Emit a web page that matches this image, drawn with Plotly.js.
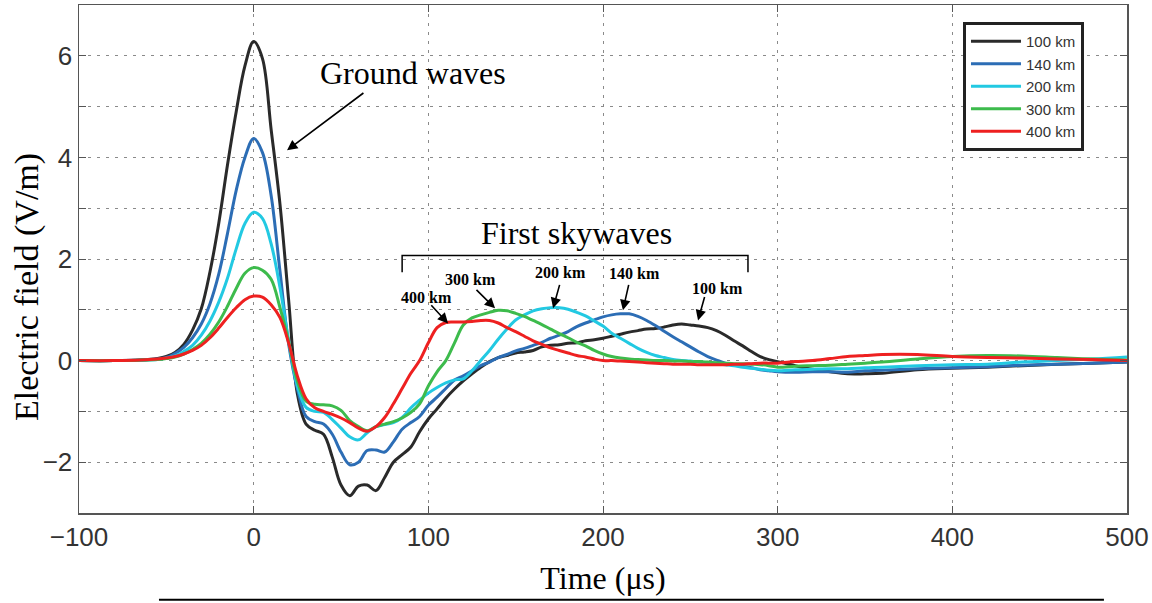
<!DOCTYPE html>
<html>
<head>
<meta charset="utf-8">
<script src="https://cdn.plot.ly/plotly-3.0.1.min.js"></script>
<style>html,body{margin:0;padding:0;background:#fff;}#chart{width:1152px;height:603px;}</style>
</head>
<body>
<div id="chart"></div>
<script>
// Time (µs)
const time = [-100,-80,-65,-55,-50,-45,-40,-35,-30,-25,-20,-15,-10,-5,0,5,10,15,20,25,30,35,40,45,50,55,60,65,70,75,80,85,90,95,100,105,110,115,120,125,130,135,140,145,150,155,160,165,170,175,180,185,190,195,200,205,210,215,220,225,230,235,240,245,250,255,260,265,270,275,280,285,290,295,300,310,320,330,340,350,360,380,400,420,440,460,480,500];

const seriesNames = ["100 km","140 km","200 km","300 km","400 km"];

const e100km = [0,0,0.01,0.04,0.08,0.16,0.32,0.6,1.02,1.75,2.7,3.85,4.9,5.8,6.28,5.95,4.55,3.1,1.2,-0.65,-1.25,-1.37,-1.45,-1.9,-2.45,-2.66,-2.47,-2.45,-2.56,-2.3,-2.0,-1.85,-1.7,-1.4,-1.15,-0.95,-0.74,-0.56,-0.4,-0.26,-0.13,-0.02,0.06,0.1,0.15,0.17,0.2,0.27,0.3,0.31,0.34,0.35,0.39,0.41,0.44,0.48,0.52,0.56,0.59,0.62,0.63,0.66,0.7,0.72,0.7,0.68,0.65,0.59,0.5,0.39,0.29,0.18,0.08,0.02,-0.02,-0.1,-0.17,-0.22,-0.26,-0.26,-0.25,-0.18,-0.15,-0.13,-0.1,-0.07,-0.05,-0.03];

const e140km = [0,0,0.01,0.03,0.06,0.14,0.26,0.45,0.72,1.12,1.7,2.5,3.35,4.0,4.37,4.1,3.25,1.78,0.33,-0.55,-1.1,-1.2,-1.25,-1.45,-1.8,-2.05,-2.0,-1.77,-1.76,-1.8,-1.6,-1.35,-1.22,-1.1,-0.88,-0.72,-0.55,-0.38,-0.3,-0.2,-0.1,-0.03,0.06,0.12,0.19,0.24,0.3,0.36,0.44,0.5,0.57,0.67,0.74,0.8,0.86,0.9,0.92,0.92,0.87,0.79,0.69,0.58,0.47,0.37,0.27,0.17,0.08,0.01,-0.05,-0.08,-0.11,-0.14,-0.18,-0.2,-0.22,-0.23,-0.22,-0.22,-0.23,-0.2,-0.19,-0.16,-0.14,-0.12,-0.09,-0.07,-0.05,-0.03];

const e200km = [0,0,0.01,0.02,0.05,0.09,0.18,0.3,0.5,0.78,1.15,1.62,2.2,2.7,2.92,2.8,2.3,1.45,0.4,-0.5,-0.92,-1.0,-1.02,-1.16,-1.33,-1.5,-1.56,-1.42,-1.3,-1.26,-1.22,-1.12,-0.93,-0.78,-0.64,-0.53,-0.44,-0.38,-0.36,-0.2,0.0,0.2,0.42,0.62,0.8,0.9,0.98,1.02,1.04,1.04,1.01,0.95,0.88,0.78,0.68,0.54,0.44,0.34,0.24,0.16,0.1,0.06,0.02,0.0,-0.01,-0.03,-0.04,-0.06,-0.08,-0.1,-0.13,-0.15,-0.17,-0.19,-0.2,-0.18,-0.17,-0.16,-0.16,-0.14,-0.13,-0.1,-0.08,-0.07,-0.03,0.0,0.03,0.07];

const e300km = [0,0,0.01,0.02,0.04,0.07,0.13,0.22,0.34,0.52,0.76,1.07,1.42,1.72,1.83,1.78,1.6,1.05,0.38,-0.4,-0.8,-0.86,-0.87,-0.89,-0.98,-1.18,-1.3,-1.38,-1.3,-1.25,-1.2,-1.13,-1.02,-0.85,-0.5,-0.22,0.0,0.35,0.7,0.84,0.9,0.95,0.99,0.98,0.93,0.87,0.79,0.71,0.62,0.53,0.45,0.36,0.29,0.2,0.13,0.08,0.05,0.03,0.02,0.01,0.0,0.0,-0.01,-0.01,-0.02,-0.02,-0.03,-0.04,-0.05,-0.06,-0.06,-0.07,-0.08,-0.1,-0.13,-0.11,-0.1,-0.09,-0.07,-0.05,-0.03,0.03,0.08,0.1,0.09,0.06,0.03,0.01];

const e400km = [0,0,0.01,0.03,0.05,0.08,0.13,0.2,0.3,0.45,0.64,0.85,1.04,1.2,1.27,1.25,1.1,0.85,0.35,-0.3,-0.75,-0.93,-1.0,-1.06,-1.13,-1.22,-1.33,-1.39,-1.3,-1.12,-0.85,-0.55,-0.25,0.0,0.35,0.65,0.75,0.76,0.76,0.77,0.79,0.79,0.74,0.65,0.57,0.48,0.39,0.32,0.25,0.2,0.15,0.1,0.07,0.03,0.0,0.0,-0.01,-0.02,-0.03,-0.04,-0.05,-0.06,-0.07,-0.07,-0.07,-0.08,-0.08,-0.08,-0.08,-0.07,-0.07,-0.06,-0.05,-0.05,-0.05,-0.02,0.0,0.04,0.08,0.1,0.12,0.12,0.08,0.06,0.05,0.03,0.02,0.0];

const seriesValues = [e100km, e140km, e200km, e300km, e400km];
const seriesColors = ["#2a2a2a","#2c6db5","#22c9e2","#3dbb4c","#ee2020"];

const xTickVals = [-100,0,100,200,300,400,500];
const yTickVals = [-2,0,2,4,6];

const traces = seriesNames.map((name, i) => ({
  x: time, y: seriesValues[i], name: name, type: "scatter", mode: "lines",
  line: {color: seriesColors[i], width: 3, shape: "spline", smoothing: 1}
}));

const serif = "Liberation Serif, Times New Roman, serif";
const sans = "Liberation Sans, Arial, Helvetica, sans-serif";
const gridStyle = {gridcolor: "#8a8a8a", griddash: "3px,6px", gridwidth: 1};

const ann = [
  {text: "Electric field (V/m)", x: -0.0496, y: 0.445, xref: "paper", yref: "paper", xanchor: "center", yanchor: "middle", textangle: -90, showarrow: false, font: {family: serif, size: 34, color: "#000"}},
  {text: "Ground waves", x: 91, y: 5.66, xref: "x", yref: "y", showarrow: false, font: {family: serif, size: 32, color: "#000"}},
  {text: "First skywaves", x: 185, y: 2.52, xref: "x", yref: "y", showarrow: false, font: {family: serif, size: 32, color: "#000"}},
  {text: "400 km", x: 99, y: 1.24, xref: "x", yref: "y", showarrow: false, font: {family: serif, size: 16, color: "#000", weight: "bold"}},
  {text: "300 km", x: 124, y: 1.6, xref: "x", yref: "y", showarrow: false, font: {family: serif, size: 16, color: "#000", weight: "bold"}},
  {text: "200 km", x: 175.4, y: 1.74, xref: "x", yref: "y", showarrow: false, font: {family: serif, size: 16, color: "#000", weight: "bold"}},
  {text: "140 km", x: 218.3, y: 1.72, xref: "x", yref: "y", showarrow: false, font: {family: serif, size: 16, color: "#000", weight: "bold"}},
  {text: "100 km", x: 265.3, y: 1.42, xref: "x", yref: "y", showarrow: false, font: {family: serif, size: 16, color: "#000", weight: "bold"}}
];
const arrows = [
  [63.7, 5.29, 19.1, 4.14],
  [100.9, 1.12, 111.3, 0.73],
  [126.7, 1.42, 138.2, 1.03],
  [175.4, 1.52, 171.4, 1.03],
  [214.9, 1.52, 211.4, 0.99],
  [258.4, 1.28, 254.4, 0.79]
];
arrows.forEach(a => ann.push({
  text: "", x: a[2], y: a[3], ax: a[0], ay: a[1], xref: "x", yref: "y", axref: "x", ayref: "y",
  showarrow: true, arrowhead: 2, arrowsize: 1.3, arrowwidth: 1.6, arrowcolor: "#000", standoff: 0
}));

const layout = {
  width: 1152, height: 603,
  margin: {l: 79, r: 25, t: 5, b: 90},
  paper_bgcolor: "#fff", plot_bgcolor: "#fff",
  showlegend: true,
  legend: {x: 0.8435, y: 0.9665, xanchor: "left", yanchor: "top", bgcolor: "#fff",
    bordercolor: "#222", borderwidth: 3, font: {family: sans, size: 15, color: "#333"},
    itemwidth: 50, tracegroupgap: 0},
  xaxis: Object.assign({
    range: [-100, 500], tickvals: xTickVals, ticks: "inside", ticklen: 7, tickcolor: "#555",
    showline: true, linecolor: "#555", linewidth: 1.5, mirror: "allticks", zeroline: false,
    showgrid: true, tickfont: {family: sans, size: 26, color: "#333"},
    title: {text: "Time (μs)", font: {family: serif, size: 32, color: "#000"}, standoff: 16}
  }, gridStyle),
  yaxis: Object.assign({
    range: [-3, 7], tickvals: yTickVals, ticks: "inside", ticklen: 7, tickcolor: "#555",
    showline: true, linecolor: "#555", linewidth: 1.5, mirror: "allticks", zeroline: false,
    showgrid: true, tickfont: {family: sans, size: 26, color: "#333"},
    minor: {dtick: 1, tick0: 0, ticks: "inside", ticklen: 7, tickcolor: "#555", showgrid: true, gridcolor: "#8a8a8a", griddash: "3px,6px", gridwidth: 1}
  }, gridStyle),
  annotations: ann,
  shapes: [
    {type: "path", xref: "x", yref: "y", path: "M85,1.74 L85,2.07 L283,2.07 L283,1.74", line: {color: "#000", width: 1.5}},
    {type: "line", xref: "paper", yref: "paper", x0: 0.0763, x1: 0.978, y0: -0.171, y1: -0.171, line: {color: "#000", width: 2}}
  ]
};

Plotly.newPlot("chart", traces, layout, {displayModeBar: false, staticPlot: true});
</script>
</body>
</html>
